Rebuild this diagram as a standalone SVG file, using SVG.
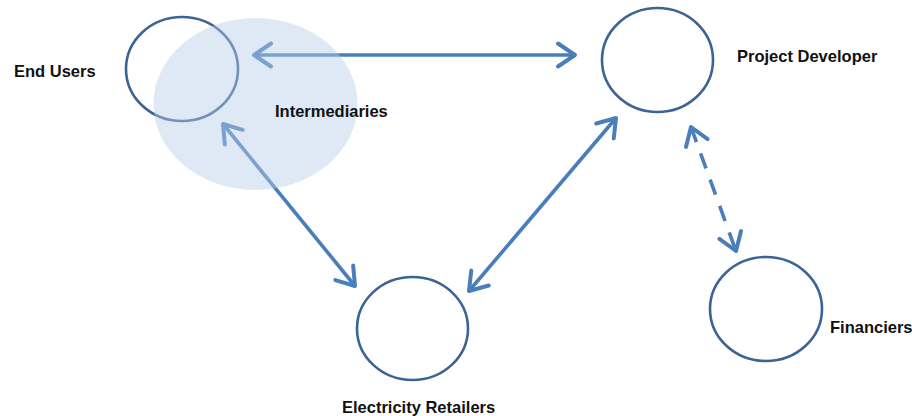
<svg xmlns="http://www.w3.org/2000/svg" width="912" height="416" viewBox="0 0 912 416">
  <defs>
    <marker id="chevron" markerUnits="userSpaceOnUse" markerWidth="30" markerHeight="30" viewBox="-24 -15 30 30" refX="0" refY="0" orient="auto-start-reverse">
      <path d="M-17,-11.5 L0,0 L-17,11.5" fill="none" stroke="#4a7ebb" stroke-width="4" stroke-linecap="round" stroke-linejoin="round"/>
    </marker>
    <style>
      .node { fill: none; stroke: #3b6396; stroke-width: 2.6; }
      .link { fill: none; stroke: #4a7ebb; stroke-width: 3.6; marker-start: url(#chevron); marker-end: url(#chevron); }
      .dashed { stroke-dasharray: 16 12; }
      .label { font-family: "Liberation Sans", Arial, sans-serif; font-weight: bold; font-size: 16.5px; fill: #111; }
      .overlay { fill: #b9cde8; fill-opacity: 0.45; }
    </style>
  </defs>

  <g id="end-users">
    <ellipse class="node" cx="182" cy="69" rx="56" ry="52"/>
    <text class="label" x="14" y="77">End Users</text>
  </g>

  <g id="project-developer">
    <ellipse class="node" cx="657.5" cy="60" rx="55.5" ry="52"/>
    <text class="label" x="737" y="62">Project Developer</text>
  </g>

  <g id="electricity-retailers">
    <ellipse class="node" cx="412.5" cy="328.5" rx="55.5" ry="51.5"/>
    <text class="label" x="342" y="413">Electricity Retailers</text>
  </g>

  <g id="financiers">
    <ellipse class="node" cx="766" cy="309" rx="56" ry="52"/>
    <text class="label" x="830" y="333">Financiers</text>
  </g>

  <g id="connectors">
    <line class="link" x1="254" y1="55" x2="575" y2="55"/>
    <line class="link" x1="223" y1="124" x2="355" y2="286"/>
    <line class="link" x1="469" y1="291" x2="616" y2="118"/>
    <line class="link dashed" x1="691" y1="127" x2="736" y2="251"/>
  </g>

  <!-- translucent shading that groups the intermediaries around the end users -->
  <g id="intermediaries">
    <ellipse class="overlay" cx="255.5" cy="104" rx="102" ry="86"/>
    <text class="label" x="275" y="117">Intermediaries</text>
  </g>
</svg>
